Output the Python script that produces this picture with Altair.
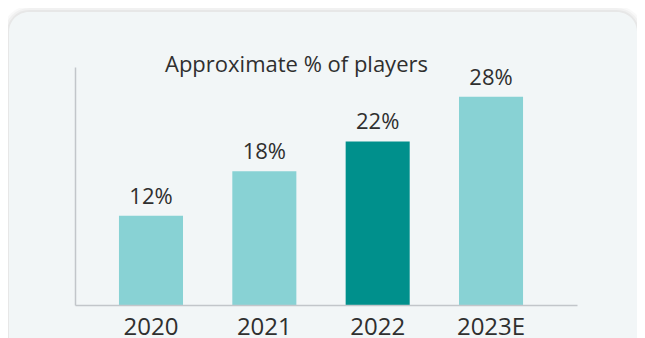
import altair as alt
import pandas as pd

# ---- data ----
years = ["2020", "2021", "2022", "2023E"]
shares = [12, 18, 22, 28]
share_labels = ["12%", "18%", "22%", "28%"]
highlight = ["no", "no", "yes", "no"]
chart_title = "Approximate % of players"

df = pd.DataFrame({"year": years, "share": shares, "label": share_labels, "hl": highlight})

FONT = "Open Sans"
TEXT = "#2f2f2f"
AXIS = "#c2c6ca"
CARD = "#f2f6f7"

W, H = 502, 238

x_enc = alt.X("year:N", sort=years,
              scale=alt.Scale(paddingInner=0.435, paddingOuter=0.432, align=0.449),
              axis=alt.Axis(title=None, labelAngle=0, ticks=False, domainColor=AXIS,
                            domainWidth=1.5, labelFont=FONT, labelFontSize=24,
                            labelColor=TEXT, labelPadding=10, grid=False, zindex=1))
y_enc = alt.Y("share:Q", scale=alt.Scale(domain=[0, 32], nice=False),
              axis=alt.Axis(title=None, labels=False, ticks=False, grid=False,
                            domainColor=AXIS, domainWidth=1.5, zindex=1))

one = pd.DataFrame({"t": [chart_title]})

# card background with soft shadow (decoration)
def card(sw, op):
    return alt.Chart(one).mark_rect(
        cornerRadius=20, fill=CARD if sw == 0 else None,
        stroke="#000000" if sw else None, strokeWidth=sw if sw else 0,
        strokeOpacity=op, fillOpacity=1 if sw == 0 else 0,
    ).encode(x=alt.value(-66), x2=alt.value(562), y=alt.value(-55), y2=alt.value(320))

shadows = [card(12, 0.025), card(8, 0.03), card(4, 0.04), card(0, 1)]

bars = alt.Chart(df).mark_bar().encode(
    x=x_enc, y=y_enc,
    color=alt.Color("hl:N", scale=alt.Scale(domain=["no", "yes"], range=["#88d2d4", "#00908c"]),
                    legend=None),
)

labels = alt.Chart(df).mark_text(
    font=FONT, fontSize=22, color=TEXT, baseline="alphabetic", dy=-12
).encode(x=alt.X("year:N", sort=years), y="share:Q", text="label:N")

title = alt.Chart(one).mark_text(
    font=FONT, fontSize=22, color=TEXT, align="left", baseline="alphabetic"
).encode(x=alt.value(90), y=alt.value(5), text="t:N")

chart = alt.layer(*shadows, bars, labels, title).properties(
    width=W, height=H,
    autosize=alt.AutoSizeParams(type="none"),
    padding={"left": 67, "top": 59, "right": 60, "bottom": 36},
    background="white",
).configure_view(stroke=None)

chart.save("out.html", embed_options={"renderer": "svg", "actions": False})
